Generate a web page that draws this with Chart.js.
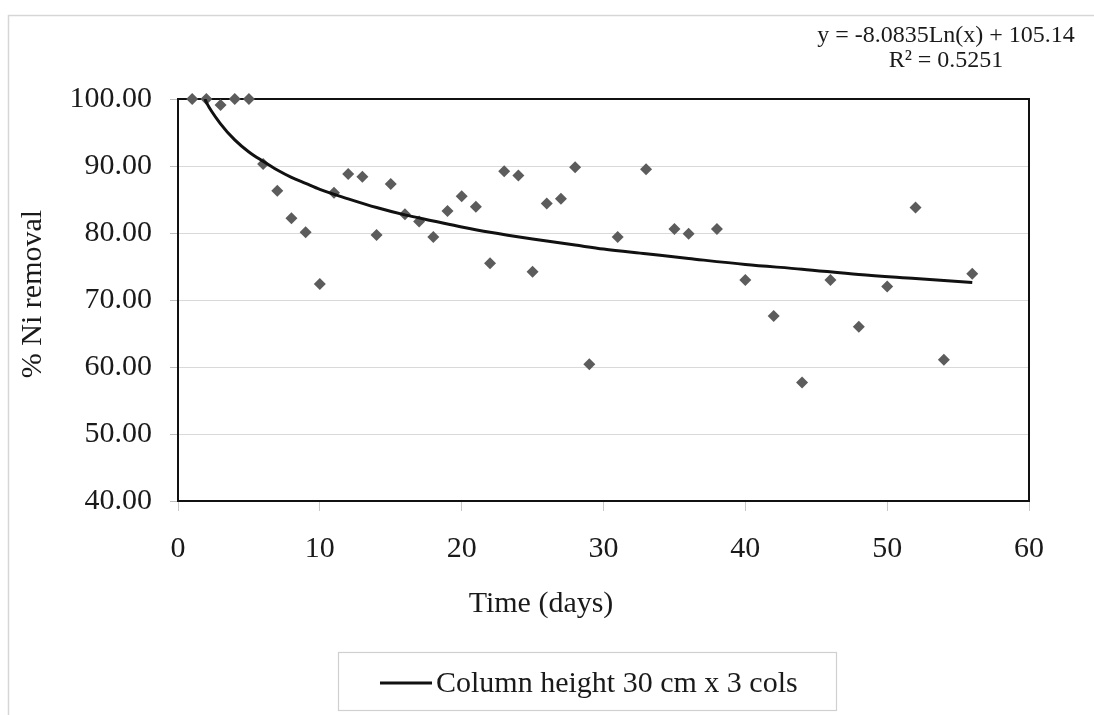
<!DOCTYPE html>
<html>
<head>
<meta charset="utf-8">
<script src="https://cdn.jsdelivr.net/npm/chart.js@4.4.1/dist/chart.umd.min.js"></script>
<style>
html,body{margin:0;padding:0;background:#fff;}
canvas{display:block;}
</style>
</head>
<body>
<canvas id="c" width="1094" height="715"></canvas>
<script>
// ---- data ----
const days = [1,2,3,4,5,6,7,8,9,10,11,12,13,14,15,16,17,18,19,20,21,22,23,24,25,26,27,28,29,31,33,35,36,38,40,42,44,46,48,50,52,54,56];
const removal = [100,100,99.1,100,100,90.3,86.3,82.2,80.1,72.4,86.0,88.8,88.4,79.7,87.3,82.8,81.7,79.4,83.3,85.5,83.9,75.5,89.2,88.6,74.2,84.4,85.1,89.8,60.4,79.4,89.5,80.6,79.9,80.6,73.0,67.6,57.7,73.0,66.0,72.0,83.8,61.1,73.9];
// trend line as traced on the picture
const trendDays = [1.9,2,3,4,5,6,7,8,9,10,12,14,16,18,20,22,25,28,30,33,36,40,44,48,52,56];
const trendValues = [100.0,99.5,96.3,93.9,92.1,90.7,89.4,88.3,87.4,86.5,85.1,83.8,82.7,81.8,80.9,80.1,79.1,78.2,77.6,76.9,76.2,75.3,74.6,73.8,73.2,72.6];
const yTickValues = [40,50,60,70,80,90,100];
const xTickValues = [0,10,20,30,40,50,60];
const seriesLabel = 'Column height 30 cm x 3 cols';
const equationText = 'y = -8.0835Ln(x) + 105.14';
const r2Text = 'R\u00B2 = 0.5251';
const xTitleText = 'Time (days)';
const yTitleText = '% Ni removal';

const FONT = '"Liberation Serif", "Times New Roman", serif';
const TEXT = '#1a1a1a';

const decor = {
  id: 'decor',
  beforeDraw(chart) {
    const {ctx, width, height} = chart;
    ctx.save();
    ctx.fillStyle = '#fff';
    ctx.fillRect(0, 0, width, height);
    ctx.strokeStyle = '#d6d6d6';
    ctx.lineWidth = 1.5;
    ctx.beginPath();
    ctx.moveTo(8.5, height);
    ctx.lineTo(8.5, 15.5);
    ctx.lineTo(width, 15.5);
    ctx.stroke();
    ctx.restore();
  },
  beforeDatasetsDraw(chart) {
    const {ctx, chartArea: a} = chart;
    ctx.save();
    ctx.strokeStyle = '#111';
    ctx.lineWidth = 2;
    ctx.strokeRect(a.left, a.top, a.right - a.left, a.bottom - a.top);
    ctx.restore();
  },
  afterDraw(chart) {
    const {ctx} = chart;
    ctx.save();
    ctx.fillStyle = TEXT;
    // trendline equation
    ctx.font = '24px ' + FONT;
    ctx.textAlign = 'center';
    ctx.textBaseline = 'middle';
    ctx.fillText(equationText, 946, 36);
    ctx.fillText(r2Text, 946, 61);
    // axis titles
    ctx.font = '30px ' + FONT;
    ctx.fillText(xTitleText, 541, 604);
    ctx.save();
    ctx.translate(33, 294);
    ctx.rotate(-Math.PI / 2);
    ctx.fillText(yTitleText, 0, 0);
    ctx.restore();
    // legend
    const ds = chart.data.datasets[0];
    ctx.strokeStyle = '#d0d0d0';
    ctx.lineWidth = 1.2;
    ctx.strokeRect(338.5, 652.5, 498, 58);
    ctx.strokeStyle = ds.borderColor;
    ctx.lineWidth = 3;
    ctx.beginPath();
    ctx.moveTo(380, 683);
    ctx.lineTo(432, 683);
    ctx.stroke();
    ctx.textAlign = 'left';
    ctx.fillText(ds.label, 436, 684);
    ctx.restore();
  }
};

new Chart(document.getElementById('c'), {
  type: 'scatter',
  data: {
    datasets: [
      {
        label: seriesLabel,
        data: trendDays.map((d, i) => ({x: d, y: trendValues[i]})),
        showLine: true,
        borderColor: '#111',
        borderWidth: 3,
        pointRadius: 0,
        tension: 0.4,
        cubicInterpolationMode: 'monotone'
      },
      {
        label: 'data',
        data: days.map((d, i) => ({x: d, y: removal[i]})),
        pointStyle: 'rectRot',
        pointRadius: 6,
        backgroundColor: '#5c5c5c',
        borderWidth: 0,
        clip: false
      }
    ]
  },
  options: {
    responsive: false,
    animation: false,
    events: [],
    layout: {padding: {top: 99, right: 65, left: 0, bottom: 0}},
    plugins: {legend: {display: false}, tooltip: {enabled: false}, title: {display: false}},
    scales: {
      x: {
        type: 'linear',
        min: 0, max: 60,
        afterFit(s) { s.height = 214; },
        afterBuildTicks(s) { s.ticks = xTickValues.map(v => ({value: v})); },
        border: {color: '#111', width: 2},
        grid: {drawOnChartArea: false, tickColor: '#c8c8c8', tickLength: 10},
        ticks: {color: TEXT, font: {family: FONT, size: 30}, padding: 20, maxRotation: 0, callback: v => String(v)}
      },
      y: {
        type: 'linear',
        min: 40, max: 100,
        afterFit(s) { s.width = 178; },
        afterBuildTicks(s) { s.ticks = yTickValues.map(v => ({value: v})); },
        border: {color: '#111', width: 2},
        grid: {color: '#d9d9d9', lineWidth: 1, tickColor: '#bdbdbd', tickLength: 8},
        ticks: {color: TEXT, font: {family: FONT, size: 30}, padding: 18, callback: v => Number(v).toFixed(2)}
      }
    }
  },
  plugins: [decor]
});
</script>
</body>
</html>
